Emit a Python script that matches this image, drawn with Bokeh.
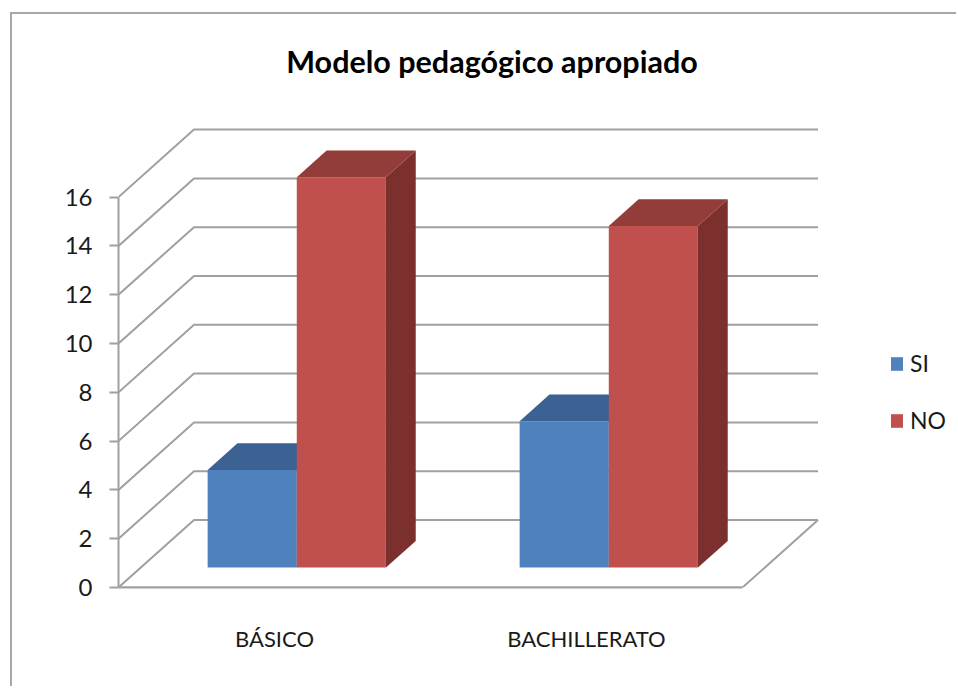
from bokeh.plotting import figure
from bokeh.models import FixedTicker, Legend, LegendItem, Label, LinearAxis
from bokeh.embed import file_html
from bokeh.resources import INLINE

title = "Modelo pedagógico apropiado"
categories = ["BÁSICO", "BACHILLERATO"]
si_values = [4, 6]
no_values = [16, 14]
y_ticks = [0, 2, 4, 6, 8, 10, 12, 14, 16]

W, H = 946, 674
OX, OY = 12, 14
LEFT, BOTTOM = 118 - OX, 101
PX_X, PX_Y = 312, 24.4
DEPTH_X, DEPTH_Y = 75.5 / PX_X, 67.5 / PX_Y
FONT = "Lato"

def project(x, y, z):
    return x + z * DEPTH_X, y + z * DEPTH_Y

p = figure(width=W, height=H, output_backend="svg", toolbar_location=None,
           x_range=(0, (W - LEFT) / PX_X), y_range=(0, (H - BOTTOM) / PX_Y),
           min_border_left=LEFT, min_border_bottom=BOTTOM, min_border_top=0, min_border_right=0,
           x_axis_type=None, y_axis_type=None, margin=(12, 0, 0, 10),
           styles={"border-left": "2px solid #a8a8a8", "border-top": "2px solid #a8a8a8"})
p.grid.visible = False
p.outline_line_color = None

GRID = "#a0a0a0"
n = len(categories)
for v in y_ticks:
    a = project(0, v, 0); b = project(0, v, 1); c = project(n, v, 1)
    p.line([a[0], b[0], c[0]], [a[1], b[1], c[1]], line_color=GRID, line_width=2)
f = [project(0, 0, 0), project(n, 0, 0), project(n, 0, 1)]
p.line([q[0] for q in f], [q[1] for q in f], line_color=GRID, line_width=2)

BAR = 1 / 3.5
Z0, Z1 = 0.295, 0.69

def bar(x0, v, front, topc, side):
    x1 = x0 + BAR
    A = project(x0, 0, Z0); B = project(x1, 0, Z0); C = project(x1, v, Z0); D = project(x0, v, Z0)
    E = project(x1, v, Z1); F = project(x0, v, Z1); G = project(x1, 0, Z1)
    p.patch([B[0], G[0], E[0], C[0]], [B[1], G[1], E[1], C[1]], fill_color=side, line_color=None)
    p.patch([D[0], C[0], E[0], F[0]], [D[1], C[1], E[1], F[1]], fill_color=topc, line_color=None)
    return p.patch([A[0], B[0], C[0], D[0]], [A[1], B[1], C[1], D[1]], fill_color=front, line_color=None)

r_si = r_no = None
for i in range(n):
    x0 = i + 0.75 * BAR
    r_si = bar(x0, si_values[i], "#4F81BD", "#3B6292", "#2F4F77")
    r_no = bar(x0 + BAR, no_values[i], "#C0504D", "#933D3B", "#7B302E")

yax = LinearAxis(ticker=FixedTicker(ticks=y_ticks), bounds=(0, 16))
yax.axis_line_color = GRID; yax.axis_line_width = 2
yax.major_tick_line_color = GRID; yax.major_tick_line_width = 2
yax.major_tick_out = 9; yax.major_tick_in = 0
yax.minor_tick_line_color = None
yax.major_label_text_font = FONT; yax.major_label_text_font_size = "24px"
yax.major_label_text_color = "#1a1a1a"
yax.major_label_standoff = 17
p.add_layout(yax, "left")

xax = LinearAxis(ticker=FixedTicker(ticks=[i + 0.5 for i in range(n)]), bounds=(0, n),
                 major_label_overrides={i + 0.5: c for i, c in enumerate(categories)})
xax.axis_line_color = GRID; xax.axis_line_width = 2
xax.major_tick_line_color = None; xax.minor_tick_line_color = None
xax.major_label_text_font = FONT; xax.major_label_text_font_size = "22px"
xax.major_label_text_color = "#1a1a1a"
xax.major_label_standoff = 31
p.add_layout(xax, "below")

legend = Legend(items=[LegendItem(label="SI", renderers=[r_si]), LegendItem(label="NO", renderers=[r_no])],
                location=(771, 153), border_line_color=None, background_fill_alpha=0,
                glyph_width=15, glyph_height=17, label_text_font=FONT, label_text_font_size="23px",
                label_text_color="#1a1a1a", spacing=29, padding=0, margin=0, label_standoff=6)
p.add_layout(legend, "center")

p.add_layout(Label(x=491.5 - 118, y=587 - 60, x_units="screen", y_units="screen", text=title,
                   text_font=FONT, text_font_style="bold", text_font_size="30.5px", text_align="center",
                   text_baseline="middle", text_color="#000000"))

open("out.html", "w").write(file_html(p, INLINE))
